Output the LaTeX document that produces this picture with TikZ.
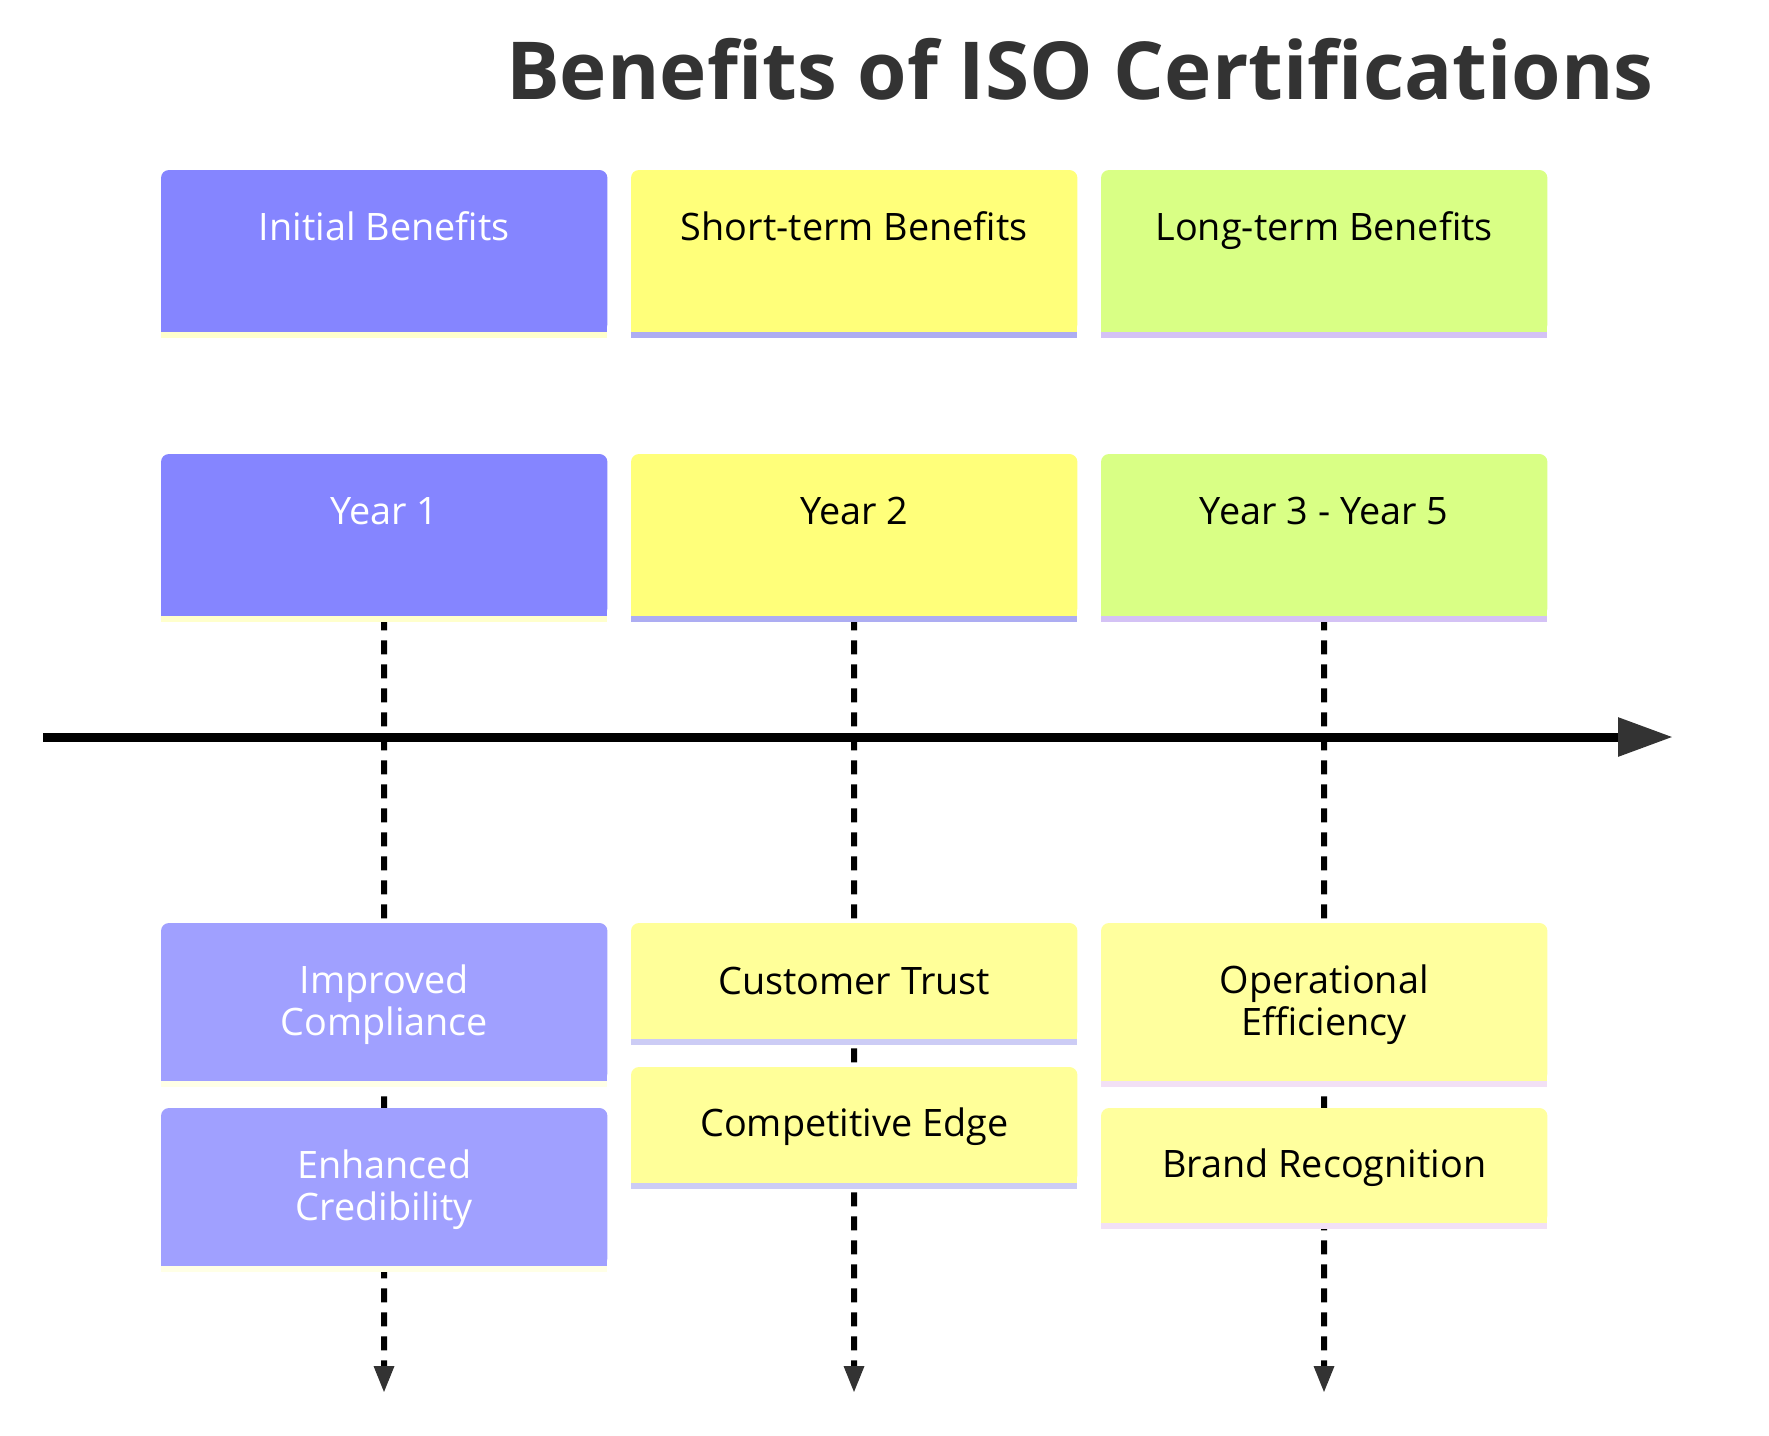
\documentclass[tikz,border=0pt]{standalone}
\usepackage{fontspec}
\setmainfont{Open Sans}
\usetikzlibrary{arrows.meta,backgrounds}
\definecolor{hdA}{HTML}{8585FF}
\definecolor{hdB}{HTML}{FFFF7A}
\definecolor{hdC}{HTML}{D9FF85}
\definecolor{stA}{HTML}{FFFFCC}
\definecolor{stB}{HTML}{ADADF2}
\definecolor{stC}{HTML}{D4C2F5}
\definecolor{tkA}{HTML}{A0A0FF}
\definecolor{tkB}{HTML}{FFFF99}
\definecolor{tkC}{HTML}{FFFF9E}
\definecolor{tsA}{HTML}{FFFFE6}
\definecolor{tsB}{HTML}{CCCCF5}
\definecolor{tsC}{HTML}{F2E0F5}
\definecolor{tgray}{HTML}{333333}
\tikzset{
  boxframe/.style={rectangle, inner sep=0pt, minimum width=446pt, draw=none},
  hdtext/.style={anchor=base, inner sep=0pt, font=\fontsize{37.8}{42}\selectfont},
  tktext/.style={anchor=center, inner sep=0pt, align=center, font=\fontsize{37.8}{42}\selectfont},
  dashline/.style={line width=6pt, black, dash pattern=on 14pt off 10pt,
    -{Triangle[length=27pt,width=19pt,color=tgray]}},
  axisline/.style={line width=9pt, black, -{Triangle[length=55pt,width=37pt,color=tgray]}},
}
\newcommand\cardbox[6]{%
  \node[boxframe, minimum height=#4pt, anchor=north west] (#1) at (#2,#3) {};
  \fill[#5, rounded corners=8pt] (#1.south west) rectangle (#1.north east);
  \fill[#5] (#1.west) rectangle (#1.south east);
  \fill[#6] (#1.south west) rectangle ([yshift=-6pt]#1.south east);
}
\begin{document}
\begin{tikzpicture}[x=1pt,y=-1pt]
\useasboundingbox (0,0) rectangle (1769,1435);
% title
\node[anchor=base west, inner sep=0pt, font=\fontsize{80}{90}\selectfont\bfseries, text=tgray] (title) at (506,99) {Benefits of ISO Certifications};
% section headers
\cardbox{s1}{161}{170}{162}{hdA}{stA}
\cardbox{s2}{631}{170}{162}{hdB}{stB}
\cardbox{s3}{1101}{170}{162}{hdC}{stC}
\node[hdtext, text=white] (s1t) at ([yshift=-70pt]s1.north) {Initial Benefits};
\node[hdtext, text=black] (s2t) at ([yshift=-70pt]s2.north) {Short-term Benefits};
\node[hdtext, text=black] (s3t) at ([yshift=-70pt]s3.north) {Long-term Benefits};
% periods
\cardbox{p1}{161}{454}{162}{hdA}{stA}
\cardbox{p2}{631}{454}{162}{hdB}{stB}
\cardbox{p3}{1101}{454}{162}{hdC}{stC}
\node[hdtext, text=white] (p1t) at ([yshift=-70pt]p1.north) {Year 1};
\node[hdtext, text=black] (p2t) at ([yshift=-70pt]p2.north) {Year 2};
\node[hdtext, text=black] (p3t) at ([yshift=-70pt]p3.north) {Year 3 - Year 5};
% events
\cardbox{e11}{161}{923}{158}{tkA}{tsA}
\cardbox{e12}{161}{1108}{158}{tkA}{tsA}
\cardbox{e21}{631}{923}{116}{tkB}{tsB}
\cardbox{e22}{631}{1067}{116}{tkB}{tsB}
\cardbox{e31}{1101}{923}{158}{tkC}{tsC}
\cardbox{e32}{1101}{1108}{115}{tkC}{tsC}
\node[tktext, text=white] (e11t) at ([yshift=-2pt]e11.center) {Improved\\Compliance};
\node[tktext, text=white] (e12t) at ([yshift=-2pt]e12.center) {Enhanced\\Credibility};
\node[tktext, text=black] (e21t) at (e21.center) {Customer Trust};
\node[tktext, text=black] (e22t) at ([yshift=-1pt]e22.center) {Competitive Edge};
\node[tktext, text=black] (e31t) at ([yshift=-2pt]e31.center) {Operational\\Efficiency};
\node[tktext, text=black] (e32t) at ([yshift=-2pt]e32.center) {Brand Recognition};
% connectors
\coordinate (d1) at (384,1393);
\coordinate (d2) at (854,1393);
\coordinate (d3) at (1324,1393);
\coordinate (axs) at (43,737);
\coordinate (axe) at (1673,737);
\begin{pgfonlayer}{background}
  \fill[white] (0,0) rectangle (1769,1435);
  \draw[dashline] (p1.south) -- (d1);
  \draw[dashline] (p2.south) -- (d2);
  \draw[dashline] (p3.south) -- (d3);
  \draw[axisline] (axs) -- (axe);
\end{pgfonlayer}
\end{tikzpicture}
\end{document}
